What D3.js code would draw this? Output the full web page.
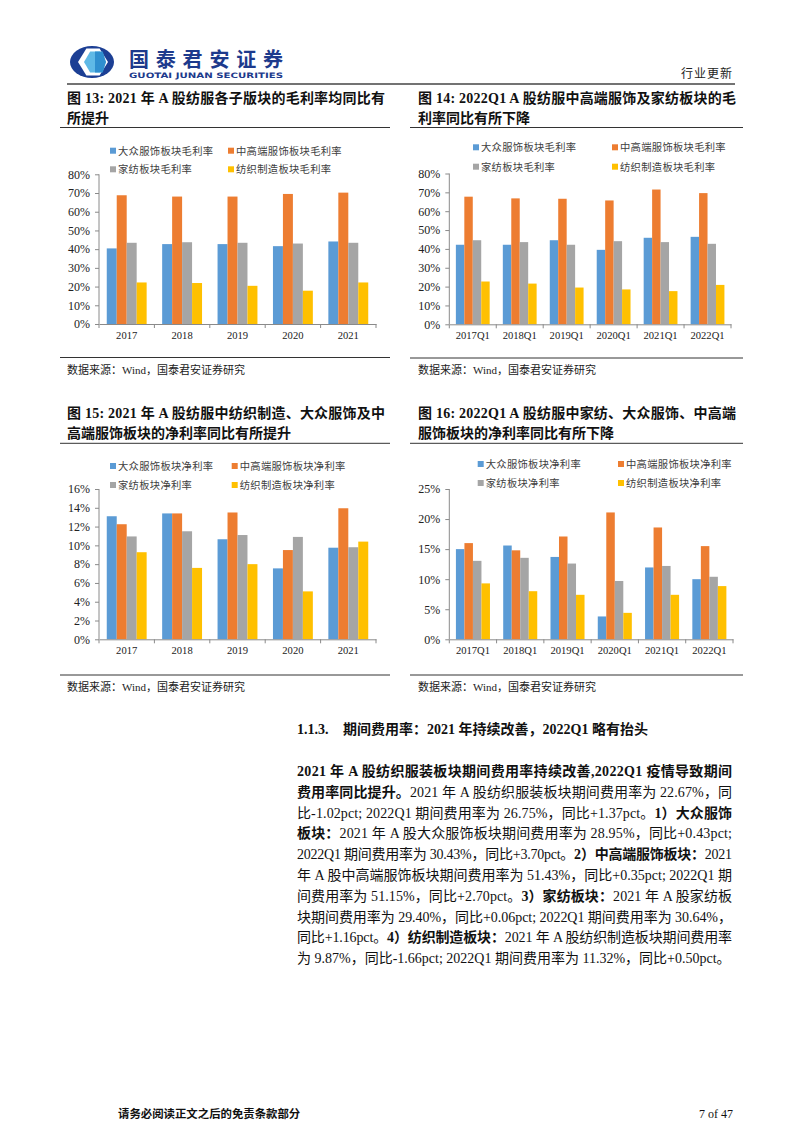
<!DOCTYPE html>
<html><head><meta charset="utf-8">
<script src="https://cdn.jsdelivr.net/npm/d3@7"></script>
<style>
html,body{margin:0;padding:0;background:#fff;}
svg{display:block;}
</style></head>
<body>
<svg id="page" width="802" height="1133"></svg>
<script>
// ---------- DATA ----------
const catsYear = ['2017','2018','2019','2020','2021'];
const catsQ1 = ['2017Q1','2018Q1','2019Q1','2020Q1','2021Q1','2022Q1'];

const legendGM = ['大众服饰板块毛利率','中高端服饰板块毛利率','家纺板块毛利率','纺织制造板块毛利率'];
const legendNM = ['大众服饰板块净利率','中高端服饰板块净利率','家纺板块净利率','纺织制造板块净利率'];

// Fig 13: gross margin by year (%)
const massGM13 = [40.4, 42.7, 42.7, 41.6, 44.1];
const highGM13 = [68.8, 68.1, 68.1, 69.5, 70.2];
const homeGM13 = [43.4, 43.7, 43.4, 43.0, 43.4];
const mfgGM13  = [22.2, 21.9, 20.4, 17.8, 22.2];
const yTicks13 = [0,10,20,30,40,50,60,70,80];

// Fig 14: gross margin Q1 (%)
const massGM14 = [42.2, 42.2, 44.6, 39.5, 45.9, 46.4];
const highGM14 = [67.7, 66.8, 66.6, 65.7, 71.5, 69.6];
const homeGM14 = [44.6, 43.6, 42.2, 44.1, 43.6, 42.7];
const mfgGM14  = [22.7, 21.6, 19.5, 18.5, 17.6, 20.9];
const yTicks14 = [0,10,20,30,40,50,60,70,80];

// Fig 15: net margin by year (%)
const massNM15 = [13.1, 13.4, 10.65, 7.55, 9.75];
const highNM15 = [12.25, 13.4, 13.5, 9.5, 13.95];
const homeNM15 = [10.95, 11.5, 11.1, 10.9, 9.8];
const mfgNM15  = [9.27, 7.6, 8.0, 5.1, 10.4];
const yTicks15 = [0,2,4,6,8,10,12,14,16];

// Fig 16: net margin Q1 (%)
const massNM16 = [15.0, 15.6, 13.7, 3.8, 11.95, 10.0];
const highNM16 = [16.0, 14.8, 17.1, 21.1, 18.6, 15.5];
const homeNM16 = [13.05, 13.55, 12.6, 9.7, 12.2, 10.4];
const mfgNM16  = [9.3, 8.0, 7.4, 4.4, 7.4, 8.85];
const yTicks16 = [0,5,10,15,20,25];

const colors = ['#5B9BD5','#ED7D31','#A5A5A5','#FFC000'];

// ---------- PAGE ----------
const svg = d3.select('#page');
svg.append('rect').attr('width',802).attr('height',1133).attr('fill','#fff');

const SERIF = '"Liberation Serif","Times New Roman","Noto Sans CJK SC",serif';
const CJK = '"Liberation Serif","Noto Sans CJK SC",serif';

// Header logo
const logo = svg.append('g');
logo.append('ellipse').attr('cx',92).attr('cy',62).attr('rx',22).attr('ry',16).attr('fill','#1c3f94');
const hex = (cx,cy,w,h)=>{const a=w/2,b=h/2,c=w*0.28;return `M${cx-a},${cy} L${cx-a+c},${cy-b} L${cx+a-c},${cy-b} L${cx+a},${cy} L${cx+a-c},${cy+b} L${cx-a+c},${cy+b} Z`;};
logo.append('path').attr('d',hex(93,62,30,27)).attr('fill','#fff');
logo.append('path').attr('d',hex(95,62,22,21)).attr('fill','#5fb9e6');
logo.append('path').attr('d',`M95,51.5 L102.8,51.5 L106,62 L102.8,72.5 L95,72.5 Z`).attr('fill','#2f8fcf');
svg.append('text').attr('x',129).attr('y',66.5).attr('font-family','"Noto Sans CJK SC",sans-serif')
  .attr('font-weight',700).attr('font-size',20).attr('fill','#1d3a8c')
  .attr('textLength',154).attr('lengthAdjust','spacing').text('国泰君安证券');
svg.append('text').attr('x',129).attr('y',77.5).attr('font-family','"DejaVu Sans",sans-serif')
  .attr('font-weight',700).attr('font-size',7.4).attr('fill','#1d3a8c')
  .attr('textLength',154).attr('lengthAdjust','spacingAndGlyphs').text('GUOTAI JUNAN SECURITIES');
svg.append('text').attr('x',733).attr('y',78).attr('text-anchor','end')
  .attr('font-family','"Noto Sans CJK SC",sans-serif').attr('font-size',12).attr('fill','#222')
  .attr('letter-spacing',1).text('行业更新');
svg.append('line').attr('x1',67).attr('x2',735).attr('y1',84).attr('y2',84).attr('stroke','#444').attr('stroke-width',1.3);

// ---------- CHART FUNCTION ----------
function drawChart(cfg){
  const g = svg.append('g');
  cfg.title.forEach((t,i)=>{
    g.append('text').attr('x',cfg.titleX).attr('y',cfg.titleY + i*19.5)
      .attr('font-family',CJK).attr('font-weight',700).attr('font-size',14).attr('fill','#111')
      .attr('textLength', i===0 ? cfg.titleLen : null).attr('lengthAdjust','spacing')
      .text(t);
  });
  g.append('line').attr('x1',cfg.ruleX1).attr('x2',cfg.ruleX2).attr('y1',cfg.ruleY).attr('y2',cfg.ruleY)
    .attr('stroke','#333').attr('stroke-width',1);
  cfg.legend.forEach((name,i)=>{
    const lx = i%2===0 ? cfg.legX[0] : cfg.legX[1];
    const ly = i<2 ? cfg.legY[0] : cfg.legY[1];
    g.append('rect').attr('x',lx).attr('y',ly-3).attr('width',6).attr('height',6).attr('fill',colors[i]);
    g.append('text').attr('x',lx+8).attr('y',ly+3.8).attr('font-family','"Noto Sans CJK SC",sans-serif')
      .attr('font-size',10.3).attr('fill','#404040').attr('letter-spacing',0.3).text(name);
  });
  const y = d3.scaleLinear().domain([0, d3.max(cfg.ticks)]).range([cfg.bottom, cfg.top]);
  const x = d3.scaleBand().domain(cfg.cats).range([cfg.left, cfg.right]).padding(0);
  const bw = x.bandwidth();
  const xi = d3.scaleBand().domain(d3.range(cfg.series.length)).range([bw*0.14, bw*0.86]).padding(0);
  cfg.series.forEach((vals,si)=>{
    g.append('g').selectAll('rect').data(vals).join('rect')
      .attr('x',(d,i)=>x(cfg.cats[i]) + xi(si))
      .attr('width',xi.bandwidth())
      .attr('y',d=>y(d))
      .attr('height',d=>y(0)-y(d))
      .attr('fill',colors[si]);
  });
  const ya = g.append('g').attr('transform',`translate(${cfg.left},0)`)
    .call(d3.axisLeft(y).tickValues(cfg.ticks).tickSize(4).tickPadding(5).tickFormat(d=>d+'%'));
  ya.select('.domain').attr('stroke','#8a8a8a').attr('d',`M-0,${cfg.bottom}V${cfg.top}`);
  ya.selectAll('.tick line').attr('stroke','#8a8a8a');
  ya.selectAll('.tick text').attr('font-family',SERIF).attr('font-size',12).attr('fill','#222');
  const xa = g.append('g').attr('transform',`translate(0,${cfg.bottom})`)
    .call(d3.axisBottom(x).tickSize(0).tickPadding(7));
  xa.select('.domain').attr('stroke','#8a8a8a');
  xa.selectAll('.tick text').attr('font-family',SERIF).attr('font-size',10.6).attr('fill','#222');
  g.append('g').selectAll('line').data(d3.range(cfg.cats.length+1)).join('line')
    .attr('x1',i=>cfg.left + i*bw).attr('x2',i=>cfg.left + i*bw)
    .attr('y1',cfg.bottom).attr('y2',cfg.bottom+4).attr('stroke','#8a8a8a');
  g.append('line').attr('x1',cfg.ruleX1).attr('x2',cfg.ruleX2).attr('y1',cfg.srcRuleY).attr('y2',cfg.srcRuleY)
    .attr('stroke','#333').attr('stroke-width',1);
  g.append('text').attr('x',cfg.titleX).attr('y',cfg.srcRuleY+16)
    .attr('font-family',CJK).attr('font-size',11).attr('fill','#222').text('数据来源：Wind，国泰君安证券研究');
}

drawChart({
  title:['图 13: 2021 年 A 股纺服各子版块的毛利率均同比有','所提升'], titleX:67, titleY:103, titleLen:318,
  ruleX1:60, ruleX2:390, ruleY:127.5, srcRuleY:357.5,
  legend:legendGM, legX:[110,228], legY:[150.7,169.3],
  cats:catsYear, series:[massGM13,highGM13,homeGM13,mfgGM13], ticks:yTicks13,
  left:99, right:376, top:174.3, bottom:324
});
drawChart({
  title:['图 14: 2022Q1 A 股纺服中高端服饰及家纺板块的毛','利率同比有所下降'], titleX:418, titleY:103, titleLen:318,
  ruleX1:410, ruleX2:743, ruleY:127.5, srcRuleY:358,
  legend:legendGM, legX:[473,612], legY:[147.3,166.7],
  cats:catsQ1, series:[massGM14,highGM14,homeGM14,mfgGM14], ticks:yTicks14,
  left:449.3, right:731, top:173.5, bottom:324.3
});
drawChart({
  title:['图 15: 2021 年 A 股纺服中纺织制造、大众服饰及中','高端服饰板块的净利率同比有所提升'], titleX:67, titleY:418, titleLen:318,
  ruleX1:60, ruleX2:390, ruleY:443.3, srcRuleY:675,
  legend:legendNM, legX:[110,231.7], legY:[466,485],
  cats:catsYear, series:[massNM15,highNM15,homeNM15,mfgNM15], ticks:yTicks15,
  left:99, right:376, top:489, bottom:639.3
});
drawChart({
  title:['图 16: 2022Q1 A 股纺服中家纺、大众服饰、中高端','服饰板块的净利率同比有所下降'], titleX:418, titleY:418, titleLen:318,
  ruleX1:410, ruleX2:743, ruleY:443.3, srcRuleY:675,
  legend:legendNM, legX:[477.7,618], legY:[464,483],
  cats:catsQ1, series:[massNM16,highNM16,homeNM16,mfgNM16], ticks:yTicks16,
  left:449.3, right:733, top:489, bottom:639.3
});

// ---------- BODY TEXT ----------
svg.append('text').attr('x',297).attr('y',734).attr('font-family',CJK).attr('font-weight',700)
  .attr('font-size',14).attr('fill','#111')
  .call(t=>{
    t.append('tspan').text('1.1.3.');
    t.append('tspan').attr('x',343).text('期间费用率：2021 年持续改善，2022Q1 略有抬头');
  });

const bodyLines = [
  [['b','2021 年 A 股纺织服装板块期间费用率持续改善,2022Q1 疫情导致期间']],
  [['b','费用率同比提升。'],['n','2021 年 A 股纺织服装板块期间费用率为 22.67%，同']],
  [['n','比-1.02pct; 2022Q1 期间费用率为 26.75%，同比+1.37pct。'],['b','1）大众服饰']],
  [['b','板块：'],['n','2021 年 A 股大众服饰板块期间费用率为 28.95%，同比+0.43pct;']],
  [['n','2022Q1 期间费用率为 30.43%，同比+3.70pct。'],['b','2）中高端服饰板块：'],['n','2021']],
  [['n','年 A 股中高端服饰板块期间费用率为 51.43%，同比+0.35pct; 2022Q1 期']],
  [['n','间费用率为 51.15%，同比+2.70pct。'],['b','3）家纺板块：'],['n','2021 年 A 股家纺板']],
  [['n','块期间费用率为 29.40%，同比+0.06pct; 2022Q1 期间费用率为 30.64%，']],
  [['n','同比+1.16pct。'],['b','4）纺织制造板块：'],['n','2021 年 A 股纺织制造板块期间费用率']],
  [['n','为 9.87%，同比-1.66pct; 2022Q1 期间费用率为 11.32%，同比+0.50pct。']]
];
bodyLines.forEach((segs,i)=>{
  const t = svg.append('text').attr('x',297).attr('y',776 + i*20.8)
    .attr('font-family',CJK).attr('font-size',14).attr('fill','#111');
  if(i < bodyLines.length-1) t.attr('textLength',435).attr('lengthAdjust','spacing');
  segs.forEach(s=>{
    t.append('tspan').attr('font-weight', s[0]==='b'?700:400).text(s[1]);
  });
});

// ---------- FOOTER ----------
svg.append('text').attr('x',118).attr('y',1118).attr('font-family','"Noto Sans CJK SC",sans-serif')
  .attr('font-weight',700).attr('font-size',11.4).attr('fill','#111').text('请务必阅读正文之后的免责条款部分');
svg.append('text').attr('x',733).attr('y',1118).attr('text-anchor','end').attr('font-family',SERIF)
  .attr('font-size',12).attr('fill','#111').text('7 of 47');
</script>
</body></html>
